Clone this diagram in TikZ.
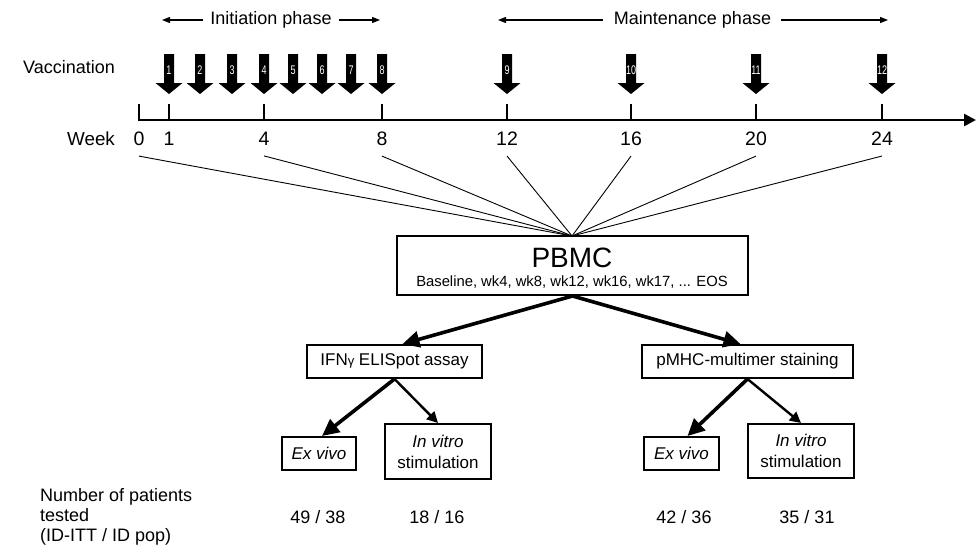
\documentclass[tikz,border=0pt]{standalone}
\usepackage{fontspec}
\setmainfont{Liberation Sans}
\usepackage{graphicx}
\usepackage{tikz}
\usetikzlibrary{positioning,calc,arrows.meta}
\tikzset{>=stealth}
\newcommand*{\fs}[1]{\fontsize{#1}{#1}\selectfont}
\tikzset{
  box/.style={draw,line width=2pt,inner sep=0pt,align=center},
  lbl/.style={inner sep=0pt,font=\fs{18}},
  bigarr/.style={line width=3.6pt,-{Triangle[length=17pt,width=16pt]}},
  thinarr/.style={line width=2.4pt,-{Triangle[length=11pt,width=11pt]}},
  phase/.style={line width=1.2pt,-{Triangle[length=8pt,width=6pt]}},
}

\begin{document}
\begin{tikzpicture}[x=1pt,y=-1pt]
\useasboundingbox (0,0) rectangle (977,547);
% time axis in weeks
\coordinate (a0) at (139,104);
\coordinate (corner) at (139,120);
\coordinate (aend) at (976,120);
\draw[line width=2.5pt,-{Triangle[length=12pt,width=12pt]}] (a0) -- (corner) -- (aend);
\foreach \w/\x in {1/169,4/264,8/382,12/507,16/631,20/756,24/882}
  \draw[line width=2.5pt] (\x,104) -- (\x,120);
\foreach \w/\x in {0/139,1/169,4/264,8/382,12/507,16/631,20/756,24/882}
  \node[lbl,font=\fs{19.5}] (w\w) at (\x,139) {\w};
\node[lbl,font=\fs{18.8}] (week) at (91,139) {Week};
\node[lbl,anchor=east] (vacc) at (115,67) {Vaccination};
% vaccinations
\foreach \n/\x in {1/169,2/200,3/232,4/264,5/293,6/322,7/351,8/382,9/507,10/631,11/756,12/882}{
  \fill (\x-5,54) -- (\x+5,54) -- (\x+5,83) -- (\x+13.5,83) -- (\x,94)
    -- (\x-13.5,83) -- (\x-5,83) -- cycle;
  \node[inner sep=0pt,text=white,font=\fs{12.5}] (v\n) at (\x,70) {\scalebox{.72}[1]{\n}};
}
% phases
\node[lbl] (init) at (271,20) {Initiation phase};
\coordinate (i0) at (162,20);
\coordinate (i1) at (380,20);
\draw[phase] ([xshift=-7pt]init.west) -- (i0);
\draw[phase] ([xshift=7pt]init.east) -- (i1);
\node[lbl] (maint) at (692.5,20) {Maintenance phase};
\coordinate (m0) at (498,20);
\coordinate (m1) at (888,20);
\draw[phase] ([xshift=-11pt]maint.west) -- (m0);
\draw[phase] ([xshift=10pt]maint.east) -- (m1);
% sampling
\coordinate (hub) at (572,236);
\foreach \w in {0,4,8,12,16,20,24}
  \draw[line width=.9pt] ([yshift=-10pt]w\w.south) -- (hub);
\node[box,minimum width=351pt,minimum height=59pt] (pbmc) at (572.5,265.5) {};
\node[inner sep=0pt,font=\fs{28}] (pbmctxt) at (572,258) {PBMC};
\node[inner sep=0pt,font=\fs{14.8}] (pbmcsub) at (572,282)
  {Baseline, wk4, wk8, wk12, wk16, wk17, ... EOS};
% assays
\node[box,font=\fs{17},minimum width=175pt,minimum height=33pt] (ifn) at (394.5,361.5)
  {IFN{\fs{13}γ} ELISpot assay};
\node[box,font=\fs{17},minimum width=211pt,minimum height=33pt] (pmhc) at (747.5,361.5)
  {pMHC-multimer staining};
\node[box,font=\fs{17}\itshape,minimum width=74pt,minimum height=33pt] (exl) at (319,453.5) {Ex vivo};
\node[box,font=\fontsize{17}{21}\selectfont,minimum width=106pt,minimum height=55pt] (invl) at (438,451.5)
  {\textit{In vitro}\\stimulation};
\node[box,font=\fs{17}\itshape,minimum width=75pt,minimum height=33pt] (exr) at (681.5,453.5) {Ex vivo};
\node[box,font=\fontsize{17}{21}\selectfont,minimum width=106pt,minimum height=54pt] (invr) at (801,451)
  {\textit{In vitro}\\stimulation};
\draw[bigarr] (pbmc.south) -- ([xshift=8pt]ifn.north);
\draw[bigarr] (pbmc.south) -- ([xshift=-7pt]pmhc.north);
\draw[bigarr] (ifn.south) -- ([xshift=3pt]exl.north);
\draw[thinarr] (ifn.south) -- (invl.north);
\draw[bigarr] (pmhc.south) -- ([xshift=6pt]exr.north);
\draw[thinarr] (pmhc.south) -- (invr.north);
% patient numbers
\node[lbl,anchor=west,align=left,font=\fontsize{18}{20}\selectfont] (npat) at (40,517)
  {Number of patients\\tested\\(ID-ITT / ID pop)};
\node[lbl] (nexl) at (318,517) {49 / 38};
\node[lbl] (ninl) at (437,517) {18 / 16};
\node[lbl] (nexr) at (684,517) {42 / 36};
\node[lbl] (ninr) at (807,517) {35 / 31};
\end{tikzpicture}
\end{document}
